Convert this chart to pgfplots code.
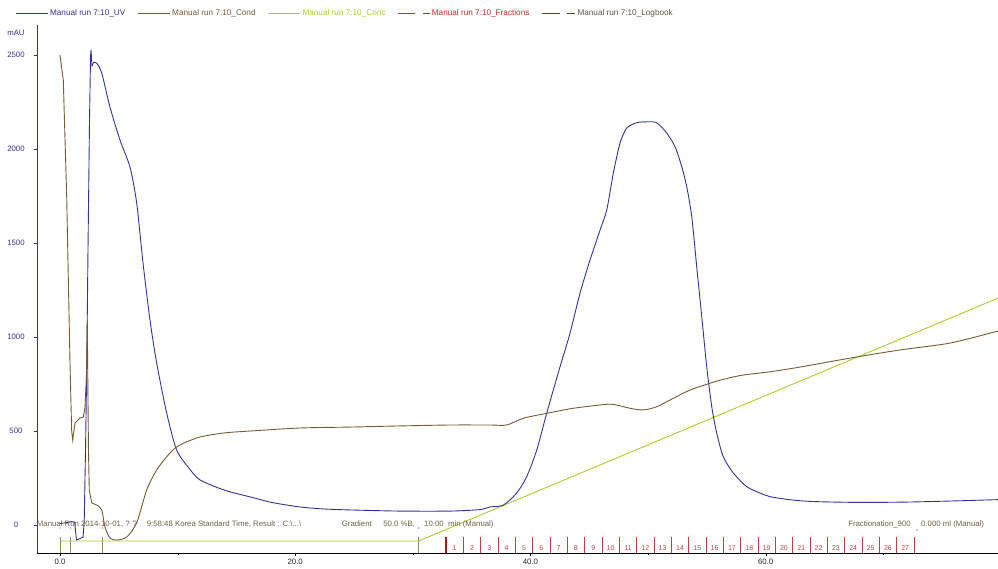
\documentclass[border=0pt]{standalone}
\usepackage{fontspec}
\setmainfont{Liberation Sans}
\usepackage{pgfplots}
\pgfplotsset{compat=1.18}
\definecolor{uvc}{RGB}{50,50,155}
\definecolor{condc}{RGB}{120,90,50}
\definecolor{concc}{RGB}{170,205,45}
\definecolor{fracc}{RGB}{200,60,60}
\definecolor{fracd}{RGB}{180,20,20}
\definecolor{fracl}{RGB}{215,35,35}
\definecolor{logc}{RGB}{155,135,85}
\definecolor{logd}{RGB}{95,65,30}
\definecolor{logt}{RGB}{95,85,65}
\definecolor{txtc}{RGB}{115,95,65}
\newcommand{\fs}{\fontsize{7.8}{9}\selectfont}
\newcommand{\fl}{\fontsize{8.2}{10}\selectfont}

\pgfplotstableread{
x y
0 8
0.5 12
1.0 18
1.25 15
1.40 -80
1.70 -72
1.96 -64
2.06 20
2.17 400
2.27 824
2.38 1463
2.51 2154
2.60 2500
2.64 2527
2.68 2480
2.72 2440
2.85 2460
3.12 2457
3.55 2404
4.25 2223
5.10 2048
5.95 1904
6.52 1713
7.06 1394
7.65 1090
8.22 862
9.07 596
9.92 399
11.0 300
11.9 240
14.0 185
16.2 149
18.0 120
20.4 96
22.5 85
24.7 80
28.9 74
33.2 74
35.7 82
36.56 96
37.70 106
38.83 170
39.68 257
40.54 399
41.39 596
42.52 842
43.37 1021
44.22 1234
45.07 1410
45.92 1569
46.49 1676
47.05 1872
47.62 2032
48.19 2112
49.04 2140
49.89 2145
50.74 2140
51.59 2085
52.30 2012
52.87 1906
53.29 1800
53.72 1640
54.14 1374
54.57 1108
54.99 842
55.42 629
55.84 489
56.40 363
57.25 277
58.39 204
59.52 170
60.37 151
62 135
64 125
68 120
72 122
76 128
79.76 135
}\uvdata

\pgfplotstableread{
x y
0 2500
0.28 2367
0.57 1745
0.85 862
0.99 505
1.08 452
1.28 543
1.70 569
1.98 574
2.13 628
2.25 800
2.32 1090
2.36 800
2.42 400
2.49 186
2.70 117
3.12 106
3.55 80
3.83 -11
4.25 -69
4.82 -80
5.67 -64
6.52 11
7.37 186
8.22 293
9.35 383
10.2 426
11.9 468
14.0 490
16.2 500
20.4 516
24.7 521
28.9 527
33.2 532
36.56 532
37.98 532
39.40 568
41.39 594
43.65 621
46.49 642
47.34 638
48.47 621
49.60 612
50.74 629
52.15 674
53.57 718
55.27 754
56.40 775
58.11 798
60.37 815
62.9 840
67.2 888
71.4 931
75.7 968
79.76 1032
}\conddata

\pgfplotstableread{
x y lab
33.56 -124 1
35.03 -124 2
36.51 -124 3
37.98 -124 4
39.45 -124 5
40.93 -124 6
42.40 -124 7
43.87 -124 8
45.35 -124 9
46.82 -124 10
48.29 -124 11
49.77 -124 12
51.24 -124 13
52.72 -124 14
54.19 -124 15
55.66 -124 16
57.14 -124 17
58.61 -124 18
60.08 -124 19
61.56 -124 20
63.03 -124 21
64.50 -124 22
65.98 -124 23
67.45 -124 24
68.93 -124 25
70.40 -124 26
71.87 -124 27
}\fraclabels

\begin{document}
\begin{tikzpicture}
\useasboundingbox (0,0) rectangle (998pt,568pt);
\begin{axis}[
  at={(37pt,15pt)}, anchor=south west,
  scale only axis, width=961pt, height=528pt,
  xmin=-1.956, xmax=79.76, ymin=-149, ymax=2660,
  axis x line*=bottom, axis y line*=left,
  x axis line style={black,-}, y axis line style={uvc,-},
  clip mode=individual,
  xtick={0,20,40,60,80}, xticklabels={0.0,20.0,40.0,60.0,80.0},
  minor xtick={10,30,50,70},
  ytick={0,500,1000,1500,2000,2500}, yticklabels={0,500,1000,1500,2000,2500},
  tick align=outside, major tick length=3pt, minor tick length=2pt,
  x tick style={black}, y tick style={uvc},
  xticklabel style={font=\fs, text=black!85},
  yticklabel style={font=\fs, text=uvc, anchor=center, xshift=-18pt},
  legend style={draw=none, fill=none, at={(rel axis cs:0,1)}, anchor=west,
    xshift=-22pt, yshift=11.7pt, font=\fl, inner sep=0pt,
    /tikz/every even column/.append style={column sep=10pt}},
  legend columns=-1,
  legend image code/.code={\draw[#1] (0pt,0pt) -- (32pt,0pt);},
]
% UV: sharp injection part, then smooth remainder
\addplot[uvc, line width=0.9pt, restrict x to domain=0:2.72] table[x=x,y=y] {\uvdata};
\addlegendentry{\textcolor{uvc}{Manual run 7:10\_UV}}
\addplot[condc, line width=0.9pt, restrict x to domain=0:2.70] table[x=x,y=y] {\conddata};
\addlegendentry{\textcolor{condc}{Manual run 7:10\_Cond}}
\addplot[concc, line width=0.9pt] coordinates {(0,-85) (30.5,-85) (79.76,1207)};
\addlegendentry{\textcolor{concc}{Manual run 7:10\_Conc}}
\addplot[only marks, mark=|, mark size=8pt, fracc, mark options={line width=0.7pt},
  legend image code/.code={\draw[fracl, line width=0.8pt] (0pt,0pt) -- (16.6pt,0pt); \draw[fracl, line width=0.8pt] (25pt,0pt) -- (31.6pt,0pt);}]
  coordinates {(34.29,-106) (35.77,-106) (37.24,-106) (38.71,-106) (40.19,-106) (41.66,-106) (43.14,-106) (44.61,-106) (46.08,-106) (47.56,-106) (49.03,-106) (50.50,-106) (51.98,-106) (53.45,-106) (54.93,-106) (56.40,-106) (57.87,-106) (59.35,-106) (60.82,-106) (62.29,-106) (63.77,-106) (65.24,-106) (66.72,-106) (68.19,-106) (69.66,-106) (71.14,-106) (72.61,-106)};
\addlegendentry{\textcolor{fracl}{Manual run 7:10\_Fractions}}
\addplot[only marks, mark=|, mark size=8pt, logc, mark options={line width=0.9pt},
  legend image code/.code={\draw[logd, line width=0.8pt] (0pt,0pt) -- (18.3pt,0pt); \draw[logd, line width=0.8pt] (25pt,0pt) -- (33.3pt,0pt);}]
  coordinates {(0,-106) (0.9,-106) (3.63,-106) (30.5,-106)};
\addlegendentry{\textcolor{logt}{Manual run 7:10\_Logbook}}
\addplot[forget plot, uvc, line width=0.9pt, smooth, tension=0.45, restrict x to domain=2.72:80] table[x=x,y=y] {\uvdata};
\addplot[forget plot, condc, line width=0.9pt, smooth, tension=0.45, restrict x to domain=2.70:80] table[x=x,y=y] {\conddata};
\addplot[forget plot, only marks, mark=|, mark size=8pt, fracd, mark options={line width=1.5pt}]
  coordinates {(32.82,-106)};
\addplot[forget plot, only marks, mark=*, mark size=0.45pt, gray]
  coordinates {(0,-16) (0.9,-16) (3.63,-16) (30.5,-16) (72.87,-27)};
\addplot[forget plot, only marks, mark=none, point meta=explicit symbolic,
  nodes near coords, nodes near coords style={anchor=center, font=\fontsize{7}{8}\selectfont, text=fracc, inner sep=0pt}]
  table[x=x,y=y,meta=lab] {\fraclabels};
\node[anchor=center, text=uvc, font=\fs] at (rel axis cs:-0.0219,0.9843) {mAU};
\node[anchor=west, text=txtc, font=\fs, inner sep=0pt] at (axis cs:-1.98,5) {Manual Run 2014-10-01, ? ?};
\node[anchor=west, text=txtc, font=\fs, inner sep=0pt] at (axis cs:7.37,5) {9:58:48 Korea Standard Time, Result : C:\textbackslash...\textbackslash};
\node[anchor=west, text=txtc, font=\fs, inner sep=0pt] at (axis cs:23.95,5) {Gradient};
\node[anchor=west, text=txtc, font=\fs, inner sep=0pt] at (axis cs:27.47,5) {50.0 \%B,};
\node[anchor=west, text=txtc, font=\fs, inner sep=0pt] at (axis cs:30.95,5) {10.00\ \ min (Manual)};
\node[anchor=west, text=txtc, font=\fs, inner sep=0pt] at (axis cs:67.01,5) {Fractionation\_900};
\node[anchor=west, text=txtc, font=\fs, inner sep=0pt] at (axis cs:73.21,5) {0.000 ml (Manual)};
\end{axis}
\end{tikzpicture}
\end{document}
